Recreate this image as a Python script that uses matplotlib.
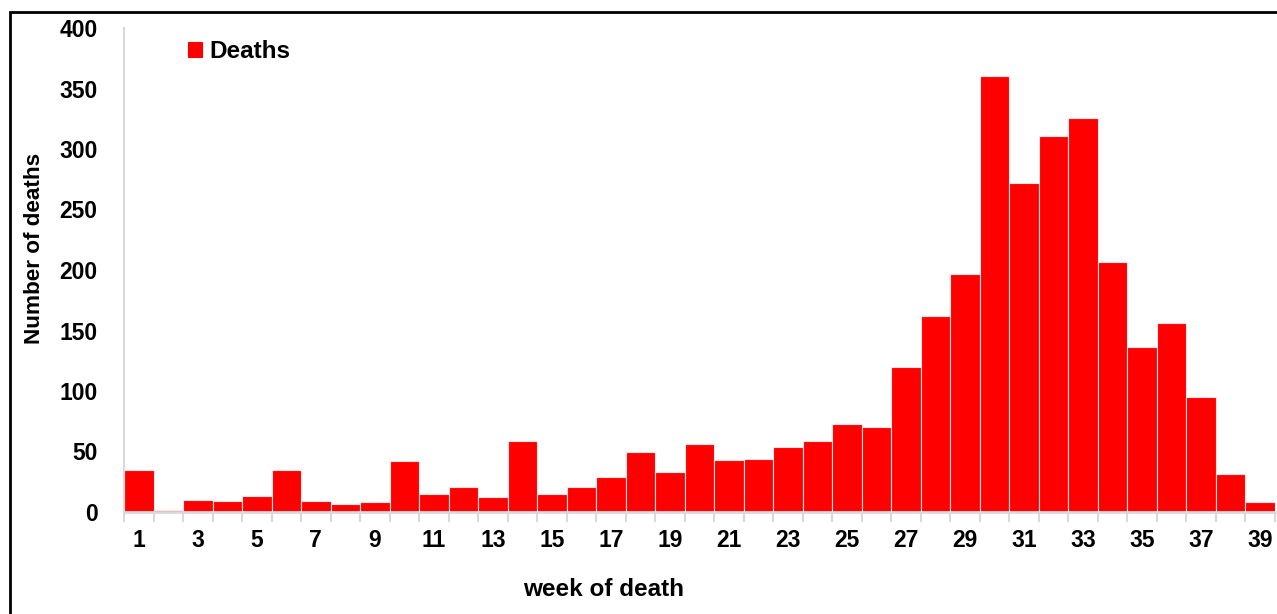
import matplotlib
matplotlib.use('Agg')
import matplotlib.pyplot as plt
import matplotlib.patches as patches
from matplotlib.ticker import FixedLocator

plt.rcParams['font.family'] = ['Liberation Sans', 'DejaVu Sans']
plt.rcParams['font.weight'] = 'bold'

# data
weeks = list(range(1, 40))
deaths = [35, 2, 10, 9, 13, 35, 9, 7, 8, 42,
          15, 21, 12, 59, 15, 21, 29, 50, 33, 56,
          43, 44, 54, 59, 73, 70, 120, 162, 197, 360,
          272, 311, 326, 207, 136, 156, 95, 31, 8]
week_labels = [str(w) for w in weeks[::2]]
y_ticks = [0, 50, 100, 150, 200, 250, 300, 350, 400]

W, H = 1277, 614
fig = plt.figure(figsize=(W / 100, H / 100), dpi=100)
fig.patch.set_facecolor('white')

ax_w = (1275 - 124) / W
ax = fig.add_axes([124 / W, 1 - 512 / H, ax_w, (512 - 28) / H])
ax.bar(weeks, deaths, width=1.0, color='#FF0000', edgecolor='#FFE4E4',
       linewidth=0.8, label='Deaths', zorder=2)

ax.set_xlim(0.5, 39.5)
ax.set_ylim(0, 400)
ax.set_yticks(y_ticks)
ax.set_xticks(weeks[::2])
ax.set_xticklabels(week_labels)
ax.xaxis.set_minor_locator(FixedLocator([w + 0.5 for w in range(0, 40)]))

ax.tick_params(axis='x', which='major', length=0, labelsize=16.5, pad=12)
ax.tick_params(axis='x', which='minor', length=7, color='#D9D9D9', width=1.5)
ax.tick_params(axis='y', length=0, labelsize=16.5, pad=19)

for s in ['top', 'right']:
    ax.spines[s].set_visible(False)
ax.spines['left'].set_color('#D9D9D9')
ax.spines['left'].set_linewidth(1.5)
ax.spines['bottom'].set_color('#D9D9D9')
ax.spines['bottom'].set_linewidth(2)

fig.text(35 / W, 1 - 248 / H, 'Number of deaths', fontsize=16.2,
         fontweight='bold', rotation=90, ha='center', va='center')
fig.text(604 / W, 1 - 590 / H, 'week of death', fontsize=17.5,
         fontweight='bold', ha='center', va='center')

leg = ax.legend(loc='upper left', bbox_to_anchor=(58 / (1275 - 124) - 0.005, 1.0),
                frameon=False, fontsize=17.5, handlelength=0.55, handleheight=0.55,
                handletextpad=0.3, borderaxespad=0.2, borderpad=0.3)
for h in leg.legend_handles:
    h.set_edgecolor('#FF0000')

# black frame around the chart
fig.add_artist(patches.Rectangle((10 / W, -0.05), 1.1, 1 - 12 / H + 0.05,
                                 transform=fig.transFigure, fill=False,
                                 edgecolor='black', linewidth=2))

fig.savefig('out.png', dpi=100)
plt.close()
